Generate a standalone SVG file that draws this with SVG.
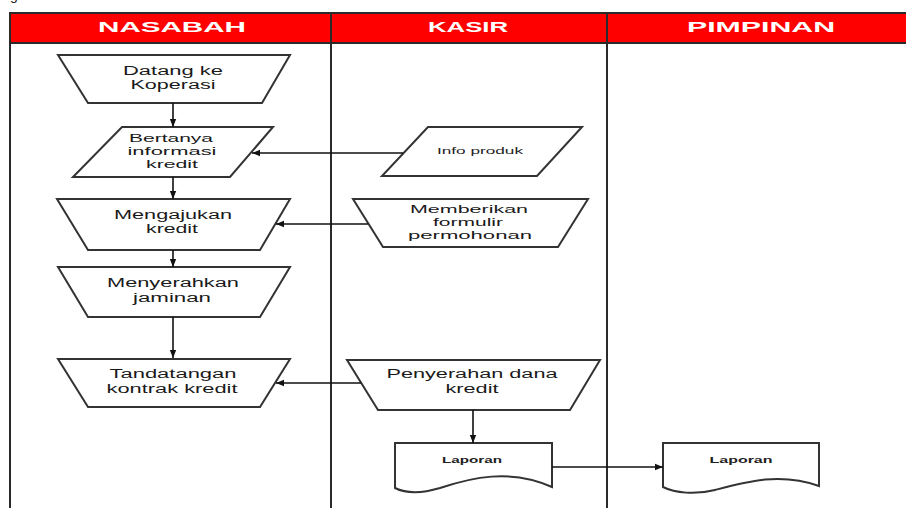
<svg xmlns="http://www.w3.org/2000/svg" width="906" height="508" viewBox="0 0 906 508">
<style>
.lane{stroke:#2a2a2a;stroke-width:2;fill:none}
.hd{font-family:"Liberation Sans",Arial,sans-serif;font-weight:bold;font-size:15px;fill:#fff;text-anchor:middle}
.shape{fill:#fff;stroke:#333;stroke-width:2}
.t{font-family:"Liberation Sans",Arial,sans-serif;font-size:12.5px;fill:#1a1a1a;text-anchor:middle}
.t3{font-family:"Liberation Sans",Arial,sans-serif;font-size:11.5px;fill:#1a1a1a;text-anchor:middle}
.ts{font-family:"Liberation Sans",Arial,sans-serif;font-size:9px;fill:#222;text-anchor:middle}
.tl{font-family:"Liberation Sans",Arial,sans-serif;font-size:8.5px;font-weight:bold;fill:#222;text-anchor:middle}
.c{stroke:#111;stroke-width:1.6;fill:none;marker-end:url(#ah)}
</style>
<defs>
<marker id="ah" viewBox="0 0 10 10" refX="10" refY="5" markerWidth="8" markerHeight="8" markerUnits="userSpaceOnUse" orient="auto">
<path d="M0,1 L10,5 L0,9 Z" fill="#111"/>
</marker>
</defs>
<rect width="906" height="508" fill="#fff"/>
<text x="10" y="0" font-family="Liberation Sans, Arial, sans-serif" font-size="14" fill="#222">g</text>
<g id="lanes">
<rect x="9" y="12" width="899" height="31" fill="#ff0000"/>
<line class="lane" x1="9" y1="13" x2="906" y2="13"/>
<line class="lane" x1="9" y1="43" x2="906" y2="43"/>
<line class="lane" x1="10" y1="12" x2="10" y2="508"/>
<line class="lane" x1="331" y1="12" x2="331" y2="508"/>
<line class="lane" x1="607" y1="12" x2="607" y2="508"/>
<text class="hd" x="172" y="32" textLength="148" lengthAdjust="spacingAndGlyphs">NASABAH</text>
<text class="hd" x="468" y="32" textLength="80" lengthAdjust="spacingAndGlyphs">KASIR</text>
<text class="hd" x="761" y="32" textLength="148" lengthAdjust="spacingAndGlyphs">PIMPINAN</text>
</g>
<g id="n1">
<polygon class="shape" points="58,55 290,55 262,103 88,103"/>
<text class="t" x="173" y="75" textLength="100" lengthAdjust="spacingAndGlyphs">Datang ke</text>
<text class="t" x="173" y="89" textLength="85" lengthAdjust="spacingAndGlyphs">Koperasi</text>
</g>
<g id="n2">
<polygon class="shape" points="122,127 273,127 230,177 73,177"/>
<text class="t3" x="171" y="142" textLength="84" lengthAdjust="spacingAndGlyphs">Bertanya</text>
<text class="t3" x="172" y="155" textLength="89" lengthAdjust="spacingAndGlyphs">informasi</text>
<text class="t3" x="172" y="168" textLength="52" lengthAdjust="spacingAndGlyphs">kredit</text>
</g>
<g id="n3">
<polygon class="shape" points="57,199 290,199 260,250 88,250"/>
<text class="t" x="173" y="219" textLength="118" lengthAdjust="spacingAndGlyphs">Mengajukan</text>
<text class="t" x="172" y="233" textLength="52" lengthAdjust="spacingAndGlyphs">kredit</text>
</g>
<g id="n4">
<polygon class="shape" points="58,267 290,267 260,317 88,317"/>
<text class="t" x="173" y="287" textLength="132" lengthAdjust="spacingAndGlyphs">Menyerahkan</text>
<text class="t" x="172" y="302" textLength="78" lengthAdjust="spacingAndGlyphs">jaminan</text>
</g>
<g id="n5">
<polygon class="shape" points="58,359 290,359 260,407 88,407"/>
<text class="t" x="173" y="378" textLength="127" lengthAdjust="spacingAndGlyphs">Tandatangan</text>
<text class="t" x="172" y="393" textLength="131" lengthAdjust="spacingAndGlyphs">kontrak kredit</text>
</g>
<g id="n6">
<polygon class="shape" points="428,127 582,127 537,176 382,176"/>
<text class="ts" x="480" y="154" textLength="86" lengthAdjust="spacingAndGlyphs">Info produk</text>
</g>
<g id="n7">
<polygon class="shape" points="353,199 588,199 558,247 383,247"/>
<text class="t3" x="469" y="213" textLength="118" lengthAdjust="spacingAndGlyphs">Memberikan</text>
<text class="t3" x="468" y="226" textLength="70" lengthAdjust="spacingAndGlyphs">formulir</text>
<text class="t3" x="470" y="239" textLength="124" lengthAdjust="spacingAndGlyphs">permohonan</text>
</g>
<g id="n8">
<polygon class="shape" points="347,360 600,360 570,410 378,410"/>
<text class="t" x="472" y="378" textLength="171" lengthAdjust="spacingAndGlyphs">Penyerahan dana</text>
<text class="t" x="472" y="393" textLength="53" lengthAdjust="spacingAndGlyphs">kredit</text>
</g>
<g id="n9">
<path class="shape" d="M395,443 L552,443 L552,487 C510,468 470,478 440,488 C420,494 405,493 395,488 Z"/>
<text class="tl" x="472" y="463" textLength="60" lengthAdjust="spacingAndGlyphs">Laporan</text>
</g>
<g id="n10">
<path class="shape" d="M663,443 L819,443 L819,486 C780,472 745,482 715,490 C695,495 675,493 663,487 Z"/>
<text class="tl" x="741" y="463" textLength="63" lengthAdjust="spacingAndGlyphs">Laporan</text>
</g>
<g id="connectors">
<line class="c" x1="173" y1="103" x2="173" y2="127"/>
<line class="c" x1="173" y1="177" x2="173" y2="199"/>
<line class="c" x1="173" y1="250" x2="173" y2="267"/>
<line class="c" x1="173" y1="317" x2="173" y2="358"/>
<line class="c" x1="403" y1="153" x2="252" y2="153"/>
<line class="c" x1="368" y1="224" x2="276" y2="224"/>
<line class="c" x1="361" y1="383" x2="276" y2="383"/>
<line class="c" x1="473" y1="410" x2="473" y2="443"/>
<line class="c" x1="552" y1="467" x2="663" y2="467"/>
</g>
</svg>
